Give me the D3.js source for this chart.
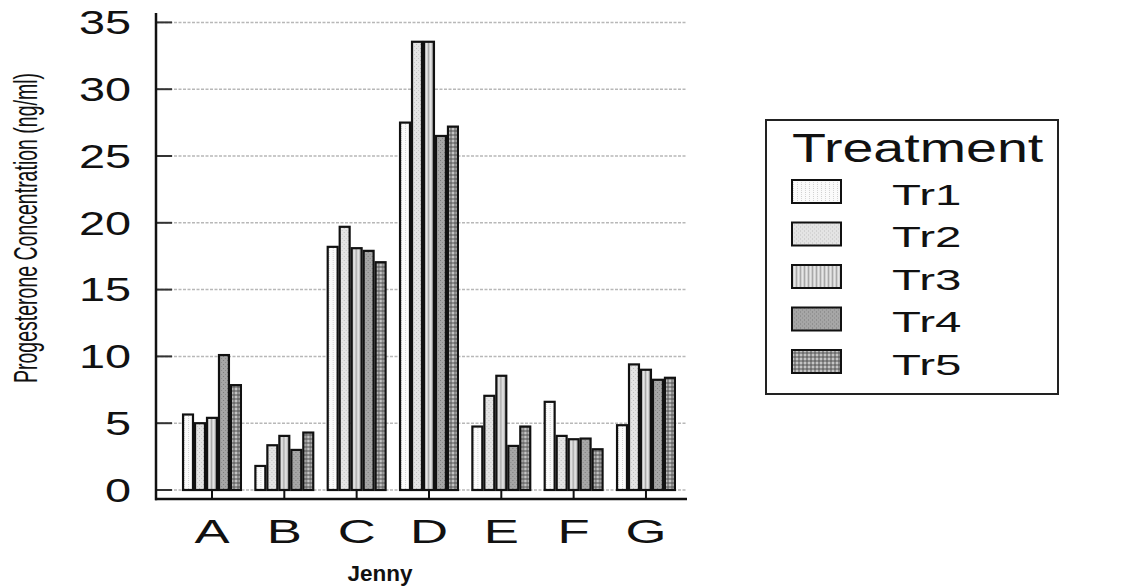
<!DOCTYPE html>
<html><head><meta charset="utf-8">
<script src="https://cdn.jsdelivr.net/npm/d3@7"></script>
<style>html,body{margin:0;padding:0;background:#fff;}svg{display:block;}</style>
</head><body>
<svg id="c" width="1138" height="586"></svg>
<script>
const categories = ["A","B","C","D","E","F","G"];
const series = ["Tr1","Tr2","Tr3","Tr4","Tr5"];
const tr1 = [5.65, 1.8, 18.2, 27.5, 4.75, 6.6, 4.85];
const tr2 = [5.0, 3.35, 19.7, 33.55, 7.05, 4.05, 9.4];
const tr3 = [5.4, 4.05, 18.1, 33.55, 8.55, 3.8, 9.0];
const tr4 = [10.1, 3.0, 17.9, 26.5, 3.3, 3.85, 8.25];
const tr5 = [7.85, 4.3, 17.05, 27.2, 4.75, 3.05, 8.4];
const yTicks = [0,5,10,15,20,25,30,35];
const yTitle = "Progesterone Concentration (ng/ml)";
const xTitle = "Jenny";
const legendTitle = "Treatment";

const values = [tr1,tr2,tr3,tr4,tr5];
const svg = d3.select("#c");
const FONT = "'Liberation Sans', Arial, sans-serif";

// patterns
const defs = svg.append("defs");
function pat(id, bg, draw){
  const p = defs.append("pattern").attr("id",id).attr("patternUnits","userSpaceOnUse")
    .attr("width",4).attr("height",4);
  p.append("rect").attr("width",4).attr("height",4).attr("fill",bg);
  draw(p);
}
pat("p1","#fbfbfb",p=>{p.append("rect").attr("x",1).attr("y",0).attr("width",1).attr("height",1).attr("fill","#cfcfcf");
  p.append("rect").attr("x",1).attr("y",2).attr("width",1).attr("height",1).attr("fill","#d8d8d8");});
pat("p2","#e4e4e4",p=>{p.append("rect").attr("x",0).attr("y",0).attr("width",1).attr("height",1).attr("fill","#bdbdbd");
  p.append("rect").attr("x",2).attr("y",2).attr("width",1).attr("height",1).attr("fill","#c8c8c8");});
pat("p3","#d0d0d0",p=>{p.append("rect").attr("x",0).attr("y",0).attr("width",1).attr("height",4).attr("fill","#a8a8a8");
  p.append("rect").attr("x",2).attr("y",0).attr("width",1).attr("height",4).attr("fill","#e6e6e6");});
pat("p4","#a6a6a6",p=>{p.append("rect").attr("x",0).attr("y",0).attr("width",1).attr("height",1).attr("fill","#7a7a7a");
  p.append("rect").attr("x",2).attr("y",2).attr("width",1).attr("height",1).attr("fill","#888");});
pat("p5","#8c8c8c",p=>{p.append("rect").attr("x",0).attr("y",0).attr("width",2).attr("height",2).attr("fill","#c4c4c4");
  p.append("rect").attr("x",2).attr("y",2).attr("width",2).attr("height",2).attr("fill","#6e6e6e");});
const fills = ["url(#p1)","url(#p2)","url(#p3)","url(#p4)","url(#p5)"];

const x0 = d3.scaleBand().domain(categories).range([183.05, 674.9]).paddingInner(0.2).paddingOuter(0);
const x1 = d3.scaleBand().domain(series).range([0, x0.bandwidth()]).paddingInner(0.17).paddingOuter(0);
const y = d3.scaleLinear().domain([0,35]).range([490, 22.4]);

const axX = 156, right = 687, axY = 499;

// gridlines
svg.append("g").selectAll("line").data(yTicks).join("line")
  .attr("x1",axX).attr("x2",right).attr("y1",d=>y(d)).attr("y2",d=>y(d))
  .attr("stroke","#b8b8b8").attr("stroke-width",1.5).attr("stroke-dasharray","3,1.5");
// inward y ticks
svg.append("g").selectAll("line").data(yTicks).join("line")
  .attr("x1",axX).attr("x2",axX+16).attr("y1",d=>y(d)).attr("y2",d=>y(d))
  .attr("stroke","#333").attr("stroke-width",2);

// bars
const groups = svg.append("g").selectAll("g").data(categories).join("g")
  .attr("transform",d=>`translate(${x0(d)},0)`);
groups.selectAll("rect").data((c,ci)=>series.map((s,si)=>({s,si,v:values[si][ci]}))).join("rect")
  .attr("x",d=>x1(d.s)).attr("width",x1.bandwidth())
  .attr("y",d=>y(d.v)).attr("height",d=>y(0)-y(d.v))
  .attr("fill",d=>fills[d.si]).attr("stroke","#111").attr("stroke-width",2.2);

// axes lines
svg.append("line").attr("x1",axX).attr("x2",axX).attr("y1",13).attr("y2",axY+1.2)
  .attr("stroke","#111").attr("stroke-width",2.5);
svg.append("line").attr("x1",axX-1).attr("x2",right).attr("y1",axY).attr("y2",axY)
  .attr("stroke","#111").attr("stroke-width",2.5);
// x ticks (upward, at group centers)
svg.append("g").selectAll("line").data(categories).join("line")
  .attr("x1",d=>x0(d)+x0.bandwidth()/2).attr("x2",d=>x0(d)+x0.bandwidth()/2)
  .attr("y1",491).attr("y2",axY).attr("stroke","#111").attr("stroke-width",2);

// y tick labels
svg.append("g").selectAll("text").data(yTicks).join("text")
  .attr("transform",d=>`translate(131,${y(d)+11.8}) scale(1.42,1)`)
  .attr("text-anchor","end").attr("font-family",FONT).attr("font-size",33).attr("fill","#111")
  .text(d=>d);
// x labels
svg.append("g").selectAll("text").data(categories).join("text")
  .attr("transform",d=>`translate(${x0(d)+x0.bandwidth()/2},543) scale(1.55,1)`)
  .attr("text-anchor","middle").attr("font-family",FONT).attr("font-size",34).attr("fill","#111")
  .text(d=>d);
// x title
svg.append("text").attr("transform","translate(380,581)")
  .attr("text-anchor","middle").attr("font-family",FONT).attr("font-weight","bold")
  .attr("font-size",22.5).attr("textLength",65).attr("lengthAdjust","spacingAndGlyphs")
  .attr("fill","#111").text(xTitle);
// y title
svg.append("text").attr("transform","translate(37,228) scale(1.5,1) rotate(-90)")
  .attr("text-anchor","middle").attr("font-family",FONT)
  .attr("font-size",22).attr("textLength",310).attr("lengthAdjust","spacingAndGlyphs")
  .attr("fill","#111").text(yTitle);

// legend
const lg = svg.append("g");
lg.append("rect").attr("x",766).attr("y",120).attr("width",292).attr("height",274)
  .attr("fill","#fff").attr("stroke","#222").attr("stroke-width",2);
lg.append("text").attr("transform","translate(792,162) scale(1.39,1)")
  .attr("font-family",FONT).attr("font-size",40).attr("fill","#111").text(legendTitle);
const li = lg.selectAll("g.it").data(series).join("g").attr("class","it")
  .attr("transform",(d,i)=>`translate(0,${180 + i*42.5})`);
li.append("rect").attr("x",792).attr("y",0).attr("width",49).attr("height",23)
  .attr("fill",(d,i)=>fills[i]).attr("stroke","#111").attr("stroke-width",2);
li.append("text").attr("transform","translate(892,24.5) scale(1.58,1)")
  .attr("font-family",FONT).attr("font-size",30).attr("fill","#111").text(d=>d);
</script>
</body></html>
